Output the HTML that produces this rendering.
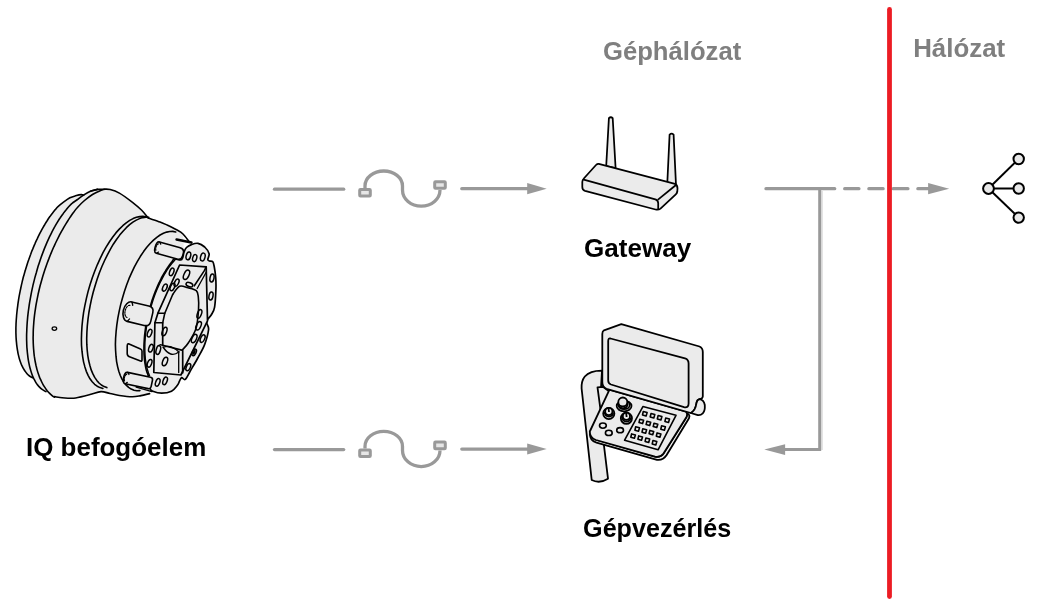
<!DOCTYPE html>
<html><head><meta charset="utf-8">
<style>
html,body{margin:0;padding:0;background:#fff;width:1047px;height:609px;overflow:hidden}
svg{position:absolute;left:0;top:0;will-change:transform}
text{font-family:"Liberation Sans",sans-serif;font-weight:bold}
</style></head><body>
<svg width="1047" height="609" viewBox="0 0 1047 609">
<!-- labels -->
<text x="603" y="59.5" font-size="25.5" fill="#7f7f7f" textLength="138.2" lengthAdjust="spacingAndGlyphs">Géphálózat</text>
<text x="913.2" y="56.8" font-size="25.5" fill="#7f7f7f" textLength="92" lengthAdjust="spacingAndGlyphs">Hálózat</text>
<text x="584.1" y="256.6" font-size="25.5" fill="#000" textLength="107.1" lengthAdjust="spacingAndGlyphs">Gateway</text>
<text x="583.1" y="537.2" font-size="25.5" fill="#000" textLength="148.1" lengthAdjust="spacingAndGlyphs">Gépvezérlés</text>
<text x="26" y="455.6" font-size="25.5" fill="#000" textLength="180.2" lengthAdjust="spacingAndGlyphs">IQ befogóelem</text>

<!-- connectors rows -->
<g id="row" fill="none" stroke="#999" stroke-width="3.3" stroke-linecap="round">
  <line x1="274.5" y1="189.2" x2="343.7" y2="189.2"/>
  <path d="M365,188 L365,186 A18.75,15 0 0 1 402.5,186 L402.5,190 A18.75,16.2 0 0 0 440,190" stroke-linecap="butt"/>
  <rect x="359.7" y="189.5" width="10.6" height="6.6" rx="0.8" fill="#e6e6e6" stroke-width="3"/>
  <rect x="434.7" y="181.7" width="10.6" height="6.6" rx="0.8" fill="#e6e6e6" stroke-width="3"/>
  <line x1="461.8" y1="188.7" x2="530" y2="188.7"/>
  <path d="M527.2,183.1 L546.7,188.7 L527.2,194.2 Z" fill="#999" stroke="none"/>
</g>
<use href="#row" transform="translate(0,260.4)"/>

<!-- right side network lines -->
<g fill="none" stroke="#999" stroke-width="3.3" stroke-linecap="round">
  <line x1="766" y1="188.7" x2="834.7" y2="188.7"/>
  <line x1="844.7" y1="188.7" x2="858.9" y2="188.7"/>
  <line x1="868.9" y1="188.7" x2="883.1" y2="188.7"/>
  <line x1="893.1" y1="188.7" x2="907.9" y2="188.7"/>
  <line x1="917.9" y1="188.7" x2="930" y2="188.7"/>
  <path d="M928.1,183 L949.2,188.7 L928.1,194.2 Z" fill="#999" stroke="none"/>
  <line x1="822.1" y1="191" x2="822.1" y2="450" stroke="#e3e3e3" stroke-width="1.8" stroke-linecap="butt"/>
  <path d="M819.7,188.7 L819.7,449.5 L783,449.5" stroke-linecap="butt" stroke-width="3"/>
  <path d="M785.1,444.3 L764.3,449.6 L785.1,455.1 Z" fill="#999" stroke="none"/>
</g>


<!-- chuck -->
<g stroke-linejoin="round" stroke-linecap="round">
<path d="M83.6,195.2 L81.2,194.6 L75.5,195.8 L69.9,197.8 L63.5,202.2 L58.0,206.6 L55.3,209.6 L52.6,213.0 L49.9,216.6 L47.3,220.5 L44.7,224.7 L42.1,229.1 L39.7,233.7 L37.3,238.6 L35.0,243.6 L32.8,248.9 L30.7,254.2 L28.7,259.8 L26.8,265.4 L25.1,271.1 L23.4,276.8 L22.0,282.6 L20.7,288.5 L19.5,294.3 L18.5,300.1 L17.7,305.8 L17.0,311.5 L16.5,317.0 L16.1,322.5 L15.9,327.8 L15.9,332.9 L16.1,337.9 L16.5,342.6 L17.0,347.1 L17.7,351.4 L18.5,355.4 L19.5,359.2 L20.7,362.7 L22.0,365.8 L23.5,368.7 L25.1,371.2 L26.8,373.4 L28.7,375.3 L30.7,376.8 L32.8,377.9 L32.3,375.2 L33.8,378.7 L35.5,381.8 L37.3,384.6 L39.3,386.9 L41.4,388.9 L43.7,390.4 L46.0,391.6 L49.4,393.1 L51.8,395.3 L54.3,397.2 L62.0,397.8 L68.0,398.2 L75.7,398.0 L90.0,394.6 L101.0,391.6 L110.0,393.5 L119.4,395.5 L132.5,396.8 L141.0,395.6 L149.6,393.6 L149.9,388.3 L152.8,391.2 L161.7,393.2 L171.5,391.2 L177.4,385.3 L179.4,381.4 L181.6,377.6 L185.3,379.4 L190.0,371.5 L197.5,358.5 L204.6,344.6 L208.6,329.5 L206.7,322.8 L208.1,318.9 L211.5,314.5 L214.6,307.1 L215.9,290.0 L215.7,277.5 L214.3,267.0 L212.8,261.8 L209.5,261.0 L207.8,259.5 L209.1,253.7 L204.7,247.0 L198.0,243.3 L191.4,244.6 L186.5,247.5 L184.0,252.0 L183.0,234.0 L176.0,229.5 L167.1,225.0 L160.0,222.0 L148.3,218.1 L141.7,210.2 L132.5,202.3 L119.4,193.1 L110.2,189.5 L103.0,189.2 L97.4,189.4 L90.5,191.2 Z" fill="#ebebeb" stroke="none"/>
<path d="M90.5,191.2 C91.7,190.9 95.3,189.7 97.4,189.4 C99.5,189.1 100.9,189.2 103.0,189.2 C105.1,189.2 107.5,188.8 110.2,189.5 C112.9,190.2 115.7,191.0 119.4,193.1 C123.1,195.2 128.8,199.5 132.5,202.3 C136.2,205.2 139.1,207.6 141.7,210.2 C144.3,212.8 147.2,216.8 148.3,218.1" fill="none" stroke="#000" stroke-width="1.6" />
<path d="M148.3,218.1 C150.2,218.8 156.9,220.8 160.0,222.0 C163.1,223.2 164.4,223.8 167.1,225.0 C169.8,226.2 173.3,228.0 176.0,229.5 C178.7,231.0 180.8,231.9 183.0,234.0 C185.2,236.1 188.3,240.7 189.4,242.0" fill="none" stroke="#000" stroke-width="1.6" />
<path d="M54.5,396.6 C55.8,396.8 59.8,397.5 62.0,397.8 C64.2,398.1 65.7,398.2 68.0,398.2 C70.3,398.2 72.0,398.6 75.7,398.0 C79.4,397.4 85.8,395.7 90.0,394.6 C94.2,393.5 97.7,391.8 101.0,391.6 C104.3,391.4 106.9,392.9 110.0,393.5 C113.1,394.1 115.7,394.9 119.4,395.5 C123.2,396.1 128.9,396.8 132.5,396.8 C136.1,396.8 138.2,396.1 141.0,395.6 C143.8,395.1 148.2,393.9 149.6,393.6" fill="none" stroke="#000" stroke-width="1.6" />
<path d="M83.6,195.2 C83.2,195.1 82.5,194.5 81.2,194.6 C79.9,194.7 77.4,195.3 75.5,195.8 C73.6,196.3 71.9,196.7 69.9,197.8 C67.9,198.9 65.5,200.7 63.5,202.2 C61.5,203.7 59.4,205.4 58.0,206.6 C56.6,207.8 56.2,208.6 55.3,209.6 C54.4,210.7 53.5,211.8 52.6,213.0 C51.7,214.1 50.8,215.3 49.9,216.6 C49.0,217.8 48.1,219.1 47.3,220.5 C46.4,221.8 45.5,223.2 44.7,224.7 C43.8,226.1 43.0,227.6 42.1,229.1 C41.3,230.6 40.5,232.1 39.7,233.7 C38.9,235.3 38.1,236.9 37.3,238.6 C36.5,240.2 35.7,241.9 35.0,243.6 C34.2,245.4 33.5,247.1 32.8,248.9 C32.0,250.6 31.3,252.4 30.7,254.2 C30.0,256.1 29.3,257.9 28.7,259.8 C28.0,261.6 27.4,263.5 26.8,265.4 C26.2,267.3 25.6,269.2 25.1,271.1 C24.5,273.0 24.0,274.9 23.4,276.8 C22.9,278.8 22.4,280.7 22.0,282.6 C21.5,284.6 21.1,286.5 20.7,288.5 C20.3,290.4 19.9,292.4 19.5,294.3 C19.1,296.2 18.8,298.2 18.5,300.1 C18.2,302.0 17.9,303.9 17.7,305.8 C17.4,307.7 17.2,309.6 17.0,311.5 C16.8,313.3 16.6,315.2 16.5,317.0 C16.3,318.9 16.2,320.7 16.1,322.5 C16.0,324.3 16.0,326.0 15.9,327.8 C15.9,329.5 15.9,331.2 15.9,332.9 C16.0,334.6 16.0,336.2 16.1,337.9 C16.2,339.5 16.3,341.1 16.5,342.6 C16.6,344.2 16.8,345.7 17.0,347.1 C17.2,348.6 17.4,350.0 17.7,351.4 C17.9,352.8 18.2,354.2 18.5,355.4 C18.8,356.7 19.1,358.0 19.5,359.2 C19.9,360.4 20.3,361.6 20.7,362.7 C21.1,363.8 21.5,364.8 22.0,365.8 C22.5,366.8 22.9,367.8 23.5,368.7 C24.0,369.6 24.5,370.4 25.1,371.2 C25.6,372.0 26.2,372.7 26.8,373.4 C27.4,374.1 28.0,374.7 28.7,375.3 C29.3,375.8 30.0,376.3 30.7,376.8 C31.4,377.2 32.4,377.7 32.8,377.9" fill="none" stroke="#000" stroke-width="1.6" />
<path d="M97.4,189.4 C96.2,189.7 92.8,190.2 90.5,191.2 C88.2,192.1 85.8,193.7 83.6,195.1 C81.4,196.5 79.4,198.1 77.5,199.5 C75.6,200.9 73.4,202.1 72.0,203.3 C70.6,204.4 70.1,205.2 69.1,206.3 C68.1,207.4 67.1,208.5 66.2,209.7 C65.2,210.9 64.2,212.1 63.3,213.4 C62.3,214.7 61.3,216.1 60.4,217.5 C59.4,218.9 58.5,220.4 57.6,221.9 C56.6,223.5 55.7,225.0 54.8,226.7 C53.9,228.3 53.0,230.0 52.1,231.7 C51.3,233.4 50.4,235.1 49.5,236.9 C48.7,238.7 47.8,240.6 47.0,242.4 C46.2,244.3 45.4,246.2 44.6,248.1 C43.8,250.1 43.1,252.1 42.3,254.1 C41.6,256.0 40.9,258.1 40.2,260.1 C39.5,262.2 38.8,264.2 38.1,266.3 C37.5,268.4 36.9,270.5 36.3,272.7 C35.6,274.8 35.1,276.9 34.5,279.1 C34.0,281.2 33.4,283.4 32.9,285.6 C32.4,287.7 32.0,289.9 31.5,292.1 C31.1,294.2 30.7,296.4 30.3,298.6 C29.9,300.7 29.5,302.9 29.2,305.1 C28.9,307.2 28.6,309.4 28.3,311.5 C28.1,313.6 27.8,315.7 27.6,317.8 C27.4,319.9 27.2,322.0 27.1,324.1 C27.0,326.1 26.8,328.2 26.8,330.2 C26.7,332.2 26.6,334.2 26.6,336.2 C26.6,338.1 26.6,340.0 26.7,341.9 C26.7,343.8 26.8,345.7 26.9,347.5 C27.1,349.3 27.2,351.1 27.4,352.8 C27.6,354.5 27.8,356.2 28.0,357.9 C28.2,359.5 28.5,361.1 28.8,362.7 C29.1,364.2 29.4,365.7 29.8,367.2 C30.2,368.6 30.6,370.0 31.0,371.4 C31.4,372.7 31.8,374.0 32.3,375.2 C32.8,376.4 33.3,377.6 33.8,378.7 C34.4,379.8 34.9,380.8 35.5,381.8 C36.1,382.8 36.7,383.7 37.3,384.6 C38.0,385.4 38.6,386.2 39.3,386.9 C40.0,387.6 40.7,388.3 41.4,388.9 C42.1,389.5 42.9,390.0 43.7,390.4 C44.4,390.9 45.6,391.4 46.0,391.6" fill="none" stroke="#000" stroke-width="1.6" />
<path d="M104.0,189.4 C103.4,189.6 102.4,189.8 100.5,190.6 C98.6,191.4 95.2,192.8 92.5,194.5 C89.8,196.2 87.1,198.3 84.5,200.5 C81.9,202.7 78.9,205.8 77.2,207.7 C75.4,209.6 75.0,210.5 73.9,211.9 C72.9,213.3 71.8,214.8 70.8,216.3 C69.8,217.8 68.7,219.4 67.7,221.0 C66.7,222.6 65.7,224.2 64.7,225.8 C63.7,227.5 62.8,229.2 61.8,230.9 C60.9,232.6 59.9,234.3 59.0,236.1 C58.1,237.9 57.2,239.7 56.3,241.5 C55.4,243.3 54.6,245.1 53.7,247.0 C52.9,248.9 52.1,250.7 51.3,252.6 C50.5,254.5 49.7,256.5 49.0,258.4 C48.2,260.3 47.5,262.3 46.8,264.2 C46.1,266.2 45.4,268.2 44.7,270.2 C44.1,272.2 43.4,274.2 42.8,276.2 C42.2,278.2 41.7,280.2 41.1,282.2 C40.5,284.2 40.0,286.2 39.5,288.2 C39.0,290.2 38.6,292.3 38.1,294.3 C37.7,296.3 37.3,298.3 36.9,300.3 C36.5,302.3 36.1,304.3 35.8,306.3 C35.5,308.3 35.2,310.3 34.9,312.3 C34.6,314.3 34.4,316.2 34.2,318.2 C34.0,320.1 33.8,322.1 33.7,324.0 C33.5,325.9 33.4,327.8 33.3,329.7 C33.2,331.6 33.2,333.5 33.2,335.3 C33.1,337.1 33.1,339.0 33.2,340.8 C33.2,342.6 33.3,344.3 33.4,346.1 C33.5,347.8 33.6,349.5 33.8,351.2 C33.9,352.9 34.1,354.6 34.3,356.2 C34.6,357.8 34.8,359.4 35.1,361.0 C35.4,362.5 35.7,364.1 36.0,365.5 C36.4,367.0 36.7,368.5 37.1,369.9 C37.5,371.3 37.9,372.7 38.4,374.0 C38.9,375.3 39.3,376.6 39.8,377.9 C40.4,379.1 40.9,380.3 41.5,381.5 C42.0,382.6 42.6,383.8 43.2,384.8 C43.8,385.9 44.5,386.9 45.2,387.9 C45.8,388.9 46.5,389.8 47.2,390.7 C47.9,391.5 48.7,392.4 49.4,393.1 C50.2,393.9 51.0,394.6 51.8,395.3 C52.6,396.0 53.9,396.9 54.3,397.2" fill="none" stroke="#000" stroke-width="1.6" />
<path d="M145.8,216.8 L142.8,216.4 L139.7,216.6 L136.4,217.3 L133.1,218.6 L129.7,220.4 L126.2,222.8 L122.8,225.7 L119.3,229.1 L115.9,232.9 L112.6,237.3 L109.3,242.0 L106.1,247.2 L103.0,252.7 L100.1,258.6 L97.3,264.8 L94.7,271.2 L92.3,277.8 L90.1,284.5 L88.1,291.4 L86.4,298.4 L84.9,305.4 L83.6,312.3 L82.7,319.2 L82.0,326.0 L81.6,332.7 L81.4,339.1 L81.5,345.3 L82.0,351.2 L82.7,356.8 L83.6,362.1 L84.9,366.9 L86.3,371.3 L88.1,375.3 L90.0,378.8 L92.2,381.8 L94.6,384.3 L97.2,386.2 L100.0,387.6 L102.9,388.4" fill="none" stroke="#000" stroke-width="1.6" />
<path d="M148.8,217.2 L145.8,217.1 L142.7,217.6 L139.5,218.6 L136.3,220.1 L132.9,222.1 L129.6,224.7 L126.3,227.7 L123.0,231.2 L119.7,235.1 L116.5,239.5 L113.3,244.2 L110.3,249.3 L107.4,254.8 L104.6,260.5 L101.9,266.5 L99.4,272.7 L97.2,279.1 L95.1,285.7 L93.2,292.3 L91.5,299.1 L90.1,305.8 L88.9,312.5 L88.0,319.2 L87.3,325.8 L86.9,332.2 L86.7,338.4 L86.8,344.4 L87.2,350.2 L87.8,355.6 L88.7,360.8 L89.9,365.5 L91.2,369.9 L92.9,373.9 L94.7,377.4 L96.8,380.4 L99.0,383.0 L101.4,385.0 L104.1,386.6 L106.8,387.6" fill="none" stroke="#000" stroke-width="1.6" />
<path d="M175.7,232.0 L172.8,231.4 L169.8,231.5 L166.7,232.1 L163.4,233.3 L160.1,235.0 L156.8,237.3 L153.5,240.1 L150.1,243.5 L146.8,247.3 L143.6,251.6 L140.4,256.3 L137.4,261.4 L134.4,266.9 L131.7,272.7 L129.0,278.7 L126.6,285.0 L124.4,291.5 L122.4,298.2 L120.6,304.9 L119.1,311.6 L117.8,318.4 L116.8,325.1 L116.1,331.7 L115.6,338.2 L115.4,344.4 L115.6,350.5 L116.0,356.2 L116.6,361.6 L117.6,366.6 L118.8,371.3 L120.3,375.5 L122.0,379.2 L124.0,382.5 L126.2,385.2 L128.6,387.4 L131.2,389.1 L134.0,390.2 L136.9,390.7 L139.9,390.6" fill="none" stroke="#000" stroke-width="1.6" />
<ellipse cx="54.4" cy="328.6" rx="2.3" ry="1.8" fill="none" stroke="#000" stroke-width="1.3"/>
<path d="M148.2,375.5 C147.7,372.8 147.4,373.5 147.1,372.5 C146.8,371.5 146.5,370.4 146.2,369.4 C146.0,368.3 145.7,367.1 145.5,366.0 C145.3,364.8 145.0,363.6 144.9,362.3 C144.7,361.1 144.5,359.8 144.4,358.5 C144.3,357.2 144.2,355.9 144.1,354.5 C144.1,353.2 144.0,351.8 144.0,350.4 C144.0,349.0 144.0,347.6 144.0,346.1 C144.0,344.7 144.1,343.2 144.2,341.7 C144.3,340.2 144.4,338.7 144.5,337.2 C144.6,335.7 144.8,334.1 145.0,332.6 C145.2,331.1 145.4,329.5 145.6,327.9 C145.8,326.4 146.1,324.8 146.4,323.2 C146.7,321.7 147.0,320.1 147.3,318.5 C147.6,316.9 148.0,315.4 148.4,313.8 C148.7,312.2 149.1,310.7 149.6,309.1 C150.0,307.5 150.4,306.0 150.9,304.4 C151.4,302.9 151.8,301.4 152.3,299.8 C152.9,298.3 153.4,296.8 153.9,295.3 C154.5,293.8 155.0,292.4 155.6,290.9 C156.2,289.5 156.8,288.0 157.4,286.6 C158.0,285.2 158.6,283.8 159.3,282.5 C159.9,281.1 160.6,279.8 161.2,278.5 C161.9,277.2 162.6,275.9 163.3,274.7 C164.0,273.5 164.7,272.2 165.4,271.1 C166.1,269.9 166.9,268.8 167.6,267.7 C168.3,266.6 169.1,265.5 169.8,264.5 C170.6,263.5 171.3,262.5 172.1,261.6 C172.9,260.6 172.8,259.2 174.4,258.9 C176.0,258.5 180.2,260.7 181.8,259.6 C183.4,258.5 183.2,254.0 184.0,252.0 C184.8,250.0 185.3,248.7 186.5,247.5 C187.7,246.3 189.5,245.3 191.4,244.6 C193.3,243.9 195.8,242.9 198.0,243.3 C200.2,243.7 202.8,245.3 204.7,247.0 C206.5,248.7 208.6,251.6 209.1,253.7 C209.6,255.8 207.7,258.3 207.8,259.5 C207.9,260.7 208.7,260.6 209.5,261.0 C210.3,261.4 212.0,260.8 212.8,261.8 C213.6,262.8 213.8,264.4 214.3,267.0 C214.8,269.6 215.4,273.7 215.7,277.5 C216.0,281.3 216.1,285.1 215.9,290.0 C215.7,294.9 215.3,303.0 214.6,307.1 C213.9,311.2 212.6,312.5 211.5,314.5 C210.4,316.5 208.9,317.5 208.1,318.9 C207.3,320.3 206.6,321.0 206.7,322.8 C206.8,324.6 208.9,325.9 208.6,329.5 C208.2,333.1 206.4,339.8 204.6,344.6 C202.8,349.4 199.9,354.0 197.5,358.5 C195.1,363.0 192.0,368.0 190.0,371.5 C188.0,375.0 186.7,378.4 185.3,379.4 C183.9,380.4 182.6,377.3 181.6,377.6 C180.6,377.9 180.1,380.1 179.4,381.4 C178.7,382.7 178.7,383.7 177.4,385.3 C176.1,386.9 174.1,389.9 171.5,391.2 C168.9,392.5 164.8,393.2 161.7,393.2 C158.6,393.2 154.8,392.0 152.8,391.2 C150.8,390.4 150.7,390.9 149.9,388.3 C149.1,385.7 148.6,378.1 148.2,375.5 Z" fill="#ebebeb" stroke="#000" stroke-width="1.7" />
<path d="M149.6,375.7 L148.5,372.9 L147.5,369.8 L146.6,366.4 L146.0,362.8 L145.4,359.0 L145.1,355.0 L144.9,350.8 L144.9,346.4 L145.0,341.9 L145.3,337.3 L145.8,332.6 L146.4,327.9 L147.2,323.1 L148.1,318.2 L149.2,313.4 L150.5,308.6 L151.9,303.8 L153.4,299.1 L155.0,294.6 L156.8,290.1 L158.7,285.7 L160.6,281.6 L162.7,277.6 L164.8,273.8 L167.0,270.2 L169.3,266.9 L171.6,263.8 L174.0,261.0 L176.3,258.4" fill="none" stroke="#000" stroke-width="1.3" />
<path d="M179.6,265.0 L206.2,266.9 L207.5,320.9 L180.9,375.0 L153.8,372.5 L154.9,322.8 L157.9,313.2 Z" fill="#ebebeb" stroke="#000" stroke-width="1.7" />
<path d="M172.7,294.5 C173.8,293.1 177.0,287.3 179.6,286.2 C182.2,285.1 185.2,287.1 188.0,287.8 C190.8,288.5 194.6,289.1 196.3,290.6 C198.0,292.1 197.9,293.8 198.3,297.0 C198.7,300.2 198.9,304.8 198.5,310.0 C198.1,315.2 197.7,323.1 196.0,328.5 C194.3,333.9 190.8,339.0 188.6,342.5 C186.4,346.0 183.7,348.4 182.7,349.6" fill="none" stroke="#000" stroke-width="1.6" />
<path d="M206.2,266.9 L204.2,270.9 L194.3,285.8" fill="none" stroke="#000" stroke-width="1.6" />
<path d="M206.3,272.0 L197.2,288.5" fill="none" stroke="#000" stroke-width="1.3" />
<path d="M172.7,294.5 L164.8,313.2 L157.9,313.2" fill="none" stroke="#000" stroke-width="1.6" />
<path d="M164.8,313.2 L162.7,322.8 L154.9,322.8" fill="none" stroke="#000" stroke-width="1.6" />
<path d="M162.7,322.8 L162.7,345.2 L182.7,350.4 L182.7,372.8" fill="none" stroke="#000" stroke-width="1.7" />
<path d="M178.7,351.4 L178.7,372.5" fill="none" stroke="#000" stroke-width="1.3" />
<path d="M162.7,345.2 L160.0,344.6" fill="none" stroke="#000" stroke-width="1.4" />
<path d="M163,347 Q170.5,358.5 178.8,352" fill="none" stroke="#000" stroke-width="1.4" />
<path d="M163.5,347.2 Q171,344 178.8,352" fill="none" stroke="#000" stroke-width="1.2" />
<ellipse cx="188.4" cy="255.9" rx="2.2" ry="4" transform="rotate(15 188.4 255.9)" fill="none" stroke="#000" stroke-width="1.5"/>
<ellipse cx="194.7" cy="258.1" rx="2" ry="3.6" transform="rotate(15 194.7 258.1)" fill="none" stroke="#000" stroke-width="1.5"/>
<ellipse cx="202.8" cy="257" rx="2.2" ry="4" transform="rotate(15 202.8 257)" fill="none" stroke="#000" stroke-width="1.5"/>
<ellipse cx="171.7" cy="271.9" rx="2" ry="4" transform="rotate(20 171.7 271.9)" fill="none" stroke="#000" stroke-width="1.5"/>
<ellipse cx="164.8" cy="287.6" rx="2" ry="3.8" transform="rotate(25 164.8 287.6)" fill="none" stroke="#000" stroke-width="1.5"/>
<ellipse cx="172.5" cy="287" rx="2" ry="4" transform="rotate(25 172.5 287)" fill="none" stroke="#000" stroke-width="1.5"/>
<ellipse cx="176.6" cy="282.7" rx="2" ry="4" transform="rotate(25 176.6 282.7)" fill="none" stroke="#000" stroke-width="1.5"/>
<ellipse cx="186.5" cy="274.8" rx="2.5" ry="5" transform="rotate(25 186.5 274.8)" fill="none" stroke="#000" stroke-width="1.5"/>
<ellipse cx="189.4" cy="284.7" rx="3.5" ry="2" transform="rotate(20 189.4 284.7)" fill="none" stroke="#000" stroke-width="1.5"/>
<ellipse cx="149.6" cy="333.1" rx="2" ry="4" transform="rotate(20 149.6 333.1)" fill="none" stroke="#000" stroke-width="1.5"/>
<ellipse cx="150.9" cy="348.2" rx="2" ry="4" transform="rotate(20 150.9 348.2)" fill="none" stroke="#000" stroke-width="1.5"/>
<ellipse cx="149.6" cy="363.3" rx="2" ry="4" transform="rotate(20 149.6 363.3)" fill="none" stroke="#000" stroke-width="1.5"/>
<ellipse cx="157.7" cy="382.4" rx="2" ry="4" transform="rotate(20 157.7 382.4)" fill="none" stroke="#000" stroke-width="1.5"/>
<ellipse cx="165.1" cy="380.9" rx="2" ry="4" transform="rotate(20 165.1 380.9)" fill="none" stroke="#000" stroke-width="1.5"/>
<ellipse cx="212" cy="278" rx="2" ry="4" transform="rotate(10 212 278)" fill="none" stroke="#000" stroke-width="1.5"/>
<ellipse cx="211" cy="296" rx="2" ry="4" transform="rotate(10 211 296)" fill="none" stroke="#000" stroke-width="1.5"/>
<ellipse cx="199.4" cy="313.9" rx="2" ry="4.5" transform="rotate(20 199.4 313.9)" fill="none" stroke="#000" stroke-width="1.5"/>
<ellipse cx="198.6" cy="325.8" rx="2.2" ry="4.5" transform="rotate(25 198.6 325.8)" fill="none" stroke="#000" stroke-width="1.5"/>
<ellipse cx="194.2" cy="338.6" rx="2.2" ry="4.5" transform="rotate(25 194.2 338.6)" fill="none" stroke="#000" stroke-width="1.5"/>
<ellipse cx="202.6" cy="338.6" rx="2" ry="4" transform="rotate(25 202.6 338.6)" fill="none" stroke="#000" stroke-width="1.5"/>
<ellipse cx="194.2" cy="352.4" rx="1.8" ry="3.5" transform="rotate(25 194.2 352.4)" fill="none" stroke="#000" stroke-width="1.5"/>
<ellipse cx="188.3" cy="367.2" rx="2" ry="3.8" transform="rotate(25 188.3 367.2)" fill="none" stroke="#000" stroke-width="1.5"/>
<ellipse cx="164.5" cy="331.5" rx="2.1" ry="4.5" transform="rotate(20 164.5 331.5)" fill="none" stroke="#000" stroke-width="1.5"/>
<ellipse cx="158.3" cy="350" rx="2.1" ry="4.5" transform="rotate(15 158.3 350)" fill="none" stroke="#000" stroke-width="1.5"/>
<ellipse cx="165" cy="361.5" rx="2.3" ry="4.5" transform="rotate(20 165 361.5)" fill="none" stroke="#000" stroke-width="1.5"/>
<ellipse cx="194.2" cy="352.4" rx="1.2" ry="2.6" transform="rotate(25 194.5 352.4)" fill="#000"/>
<path d="M128.5,343.8 L140.5,349 Q142,349.6 142,351.2 L142,360 Q142,361.5 140.5,361 L129.5,356.8 Q127.2,356 127.2,353.5 L127.2,346 Q127.4,343.5 128.5,343.8 Z" fill="#ebebeb" stroke="#000" stroke-width="1.6" />
<g transform="translate(129.4 311.65) rotate(13.3)"><path d="M0,-10 L17.5,-10 Q23,-10 23,-4.5 L23,4.5 Q23,10 17.5,10 L0,10 A6.2,10 0 0 1 0,-10 Z" fill="#ebebeb" stroke="#000" stroke-width="1.6"/><path d="M-0.93,-6.20 A3.41,6.20 0 0 0 -0.93,6.20" fill="none" stroke="#000" stroke-width="1.2" stroke-dasharray="1.6 1.2"/><path d="M0.2,-10 L1.8,-7.00 M0.2,10 L1.8,7.00" fill="none" stroke="#000" stroke-width="1.3"/></g>
<g transform="translate(157.9 247.6) rotate(15.5)"><path d="M0,-5.9 L21.5,-5.9 Q26,-5.9 26,-1.4000000000000004 L26,1.4000000000000004 Q26,5.9 21.5,5.9 L0,5.9 A2.8,5.9 0 0 1 0,-5.9 Z" fill="#ebebeb" stroke="#000" stroke-width="1.6"/><path d="M-0.42,-3.66 A1.54,3.66 0 0 0 -0.42,3.66" fill="none" stroke="#000" stroke-width="1.2" stroke-dasharray="1.6 1.2"/><path d="M0.2,-5.9 L1.8,-4.13 M0.2,5.9 L1.8,4.13" fill="none" stroke="#000" stroke-width="1.3"/></g>
<path d="M176.6,239.6 L191.4,242.6" fill="none" stroke="#000" stroke-width="2.6" />
<g transform="translate(126.35 378.05) rotate(12)"><path d="M0,-5.8 L23.5,-5.8 Q26,-5.8 26,-3.3 L26,3.3 Q26,5.8 23.5,5.8 L0,5.8 A2.8,5.8 0 0 1 0,-5.8 Z" fill="#ebebeb" stroke="#000" stroke-width="1.6"/><path d="M-0.42,-3.60 A1.54,3.60 0 0 0 -0.42,3.60" fill="none" stroke="#000" stroke-width="1.2" stroke-dasharray="1.6 1.2"/><path d="M0.2,-5.8 L1.8,-4.06 M0.2,5.8 L1.8,4.06" fill="none" stroke="#000" stroke-width="1.3"/></g>
<path d="M136.2,387.2 Q144,389.5 151.9,391.6" fill="none" stroke="#000" stroke-width="1.4" />
</g>
<!-- router -->
<g stroke="#000" stroke-width="1.75" fill="#ebebeb" stroke-linejoin="round">
  <path d="M606.2,166 L608.9,118.2 Q610.8,116.3 612.7,118.2 L615.6,168 Z"/>
  <path d="M667.3,183 L669.6,134.6 Q671.6,132.8 673.6,134.6 L676,185 Z"/>
  <path d="M598.8,163.9 L675,183.9 Q677.5,185 677.5,188.5 L677.3,191.5 Q677,193.3 675.8,194.3 L660.5,208.6 Q658.5,210.2 655.5,209.5 L585,190.8 Q582.3,190 582.3,187 L582.3,182 Q582.3,180 583.8,178.5 L596,165 Q597.3,163.7 598.8,163.9 Z"/>
  <path d="M582.8,179.4 L655.3,199.3 Q657.9,200 658.2,203 L658.2,209.3" fill="none"/>
  <path d="M657.7,199.9 L676.3,184.8" fill="none"/>
</g>
<!-- control panel -->
<g stroke="#000" stroke-width="1.8" fill="#ebebeb" stroke-linejoin="round">
  <!-- pole -->
  <path d="M602,370.6 Q590,370.5 584.8,376.5 Q581.2,381 581.6,388.5 L591.7,480 Q599.5,484 608,478.7 L603.9,445 L601,388 Z"/>
  <!-- panel back triangle -->
  <path d="M597.5,387.3 L603,386.8 L611,392.7 L600.6,410.3 Z"/>
  <!-- panel body thickness -->
  <path d="M686,413.5 L688.6,414.2 Q690,415.8 689,418.2 L666.5,455.2 Q663,460.5 657,459.8 L596.5,442.7 Q589.8,440.5 590,434 L592,436 Q593,439 597,440 L655,456.7 Q660.5,457.8 663.5,453.5 L686.5,417 Z"/>
  <!-- panel face -->
  <path d="M609.5,389.66 L686,411.6 Q687.8,413.3 686.8,416.5 L663.5,453.5 Q660.5,457.8 655,456.7 L596,440 Q589.6,437.8 589.8,431.5 Z"/>
  <!-- screen outer -->
  <path d="M604,330.3 L621.3,324.2 L699.5,346.5 Q702.8,348 702.8,352 L702.8,396.5 Q702.6,398.8 699.5,399.2 Q697,400 696.5,403 Q695.5,410.5 690.8,413 L606.5,388.8 Q602.3,387.3 602.3,382 L602.3,334 Q602.3,331.2 604,330.3 Z"/>
  <path d="M699.5,399.2 Q703.8,400 704.8,405 Q705.2,411 702.8,413.3 Q700.5,415.6 697.8,415.1 L690.8,413 Q695.5,410.5 696.5,403 Q697,400 699.5,399.2 Z"/>
  <!-- screen inner -->
  <path d="M610.5,338.5 L685,358.4 Q688.6,359.5 688.6,363.5 L688.6,403.5 Q688.6,408.2 684,407.2 L611,384.5 Q608.2,383.5 608.2,380.5 L608.2,341 Q608.2,338 610.5,338.5 Z"/>
  <!-- keypad -->
  <path d="M642.9,406.6 L676,415.3 L658.1,449.8 L624.6,440.2 Z" fill="none" stroke-width="1.6"/>
  <g fill="none" stroke-width="1.6"><path d="M643.3,411.5 L647.1,412.5 L646.1,415.9 L642.5,414.9 Z"/><path d="M651.0,413.6 L654.8,414.6 L653.8,418.0 L650.2,417.0 Z"/><path d="M658.1,415.6 L661.9,416.6 L660.9,420.0 L657.3,419.0 Z"/><path d="M665.7,418.1 L669.5,419.1 L668.5,422.5 L664.9,421.5 Z"/><path d="M639.8,419.2 L643.6,420.2 L642.6,423.6 L639.0,422.6 Z"/><path d="M646.9,421.2 L650.7,422.2 L649.7,425.6 L646.1,424.6 Z"/><path d="M654.0,423.2 L657.8,424.2 L656.8,427.6 L653.2,426.6 Z"/><path d="M661.6,425.8 L665.4,426.8 L664.4,430.2 L660.8,429.2 Z"/><path d="M635.7,426.8 L639.5,427.8 L638.5,431.2 L634.9,430.2 Z"/><path d="M642.8,428.8 L646.6,429.8 L645.6,433.2 L642.0,432.2 Z"/><path d="M649.9,430.4 L653.7,431.4 L652.7,434.8 L649.1,433.8 Z"/><path d="M657.1,432.9 L660.9,433.9 L659.9,437.3 L656.3,436.3 Z"/><path d="M631.6,433.9 L635.4,434.9 L634.4,438.3 L630.8,437.3 Z"/><path d="M638.7,435.9 L642.5,436.9 L641.5,440.3 L637.9,439.3 Z"/><path d="M645.9,438.0 L649.7,439.0 L648.7,442.4 L645.1,441.4 Z"/><path d="M653.0,440.5 L656.8,441.5 L655.8,444.9 L652.2,443.9 Z"/></g>
  <!-- knobs -->
  <ellipse cx="624.1" cy="406" rx="7.4" ry="5.4"/>
  <ellipse cx="624.1" cy="405" rx="5.6" ry="4.2"/>
  <path d="M618.3,403.2 L618.5,405 Q619.5,408.3 623,408.3 Q626.8,408.2 627.5,404.5 L627.3,401.5" />
  <circle cx="622.8" cy="402" r="4.5"/>
  <circle cx="608.8" cy="413.5" r="5.6"/>
  <path d="M604.5,412 Q605,416.5 609,416.5 Q613,416.3 613.2,412.5" fill="none"/>
  <circle cx="608.8" cy="411.5" r="3.6"/>
  <path d="M608.5,408 L609,412" fill="none"/>
  <circle cx="626.4" cy="418.3" r="5.6"/>
  <path d="M622,417 Q622.5,421.5 626.5,421.5 Q630.5,421.3 630.7,417.5" fill="none"/>
  <circle cx="626.4" cy="416.3" r="3.6"/>
  <path d="M626.2,413 L626.6,417" fill="none"/>
  <ellipse cx="602.9" cy="425.6" rx="3.4" ry="2.6" stroke-width="1.6"/>
  <ellipse cx="608.8" cy="432.9" rx="3.4" ry="2.6" stroke-width="1.6"/>
  <ellipse cx="620.1" cy="430.2" rx="3.4" ry="2.6" stroke-width="1.6"/>
</g>

<!-- red separator -->
<line x1="889.5" y1="9.5" x2="889.5" y2="596.5" stroke="#ec1c24" stroke-width="4.8" stroke-linecap="round"/>

<!-- network icon -->
<g stroke="#000" stroke-width="2" fill="#e8e8e8">
  <line x1="988.5" y1="188.5" x2="1018.7" y2="159"/>
  <line x1="988.5" y1="188.5" x2="1018.7" y2="188.5"/>
  <line x1="988.5" y1="188.5" x2="1018.7" y2="217.6"/>
  <circle cx="988.5" cy="188.5" r="5.4"/>
  <circle cx="1018.7" cy="159" r="5.2"/>
  <circle cx="1018.7" cy="188.5" r="5.2"/>
  <circle cx="1018.7" cy="217.6" r="5.2"/>
</g>
</svg>
</body></html>
